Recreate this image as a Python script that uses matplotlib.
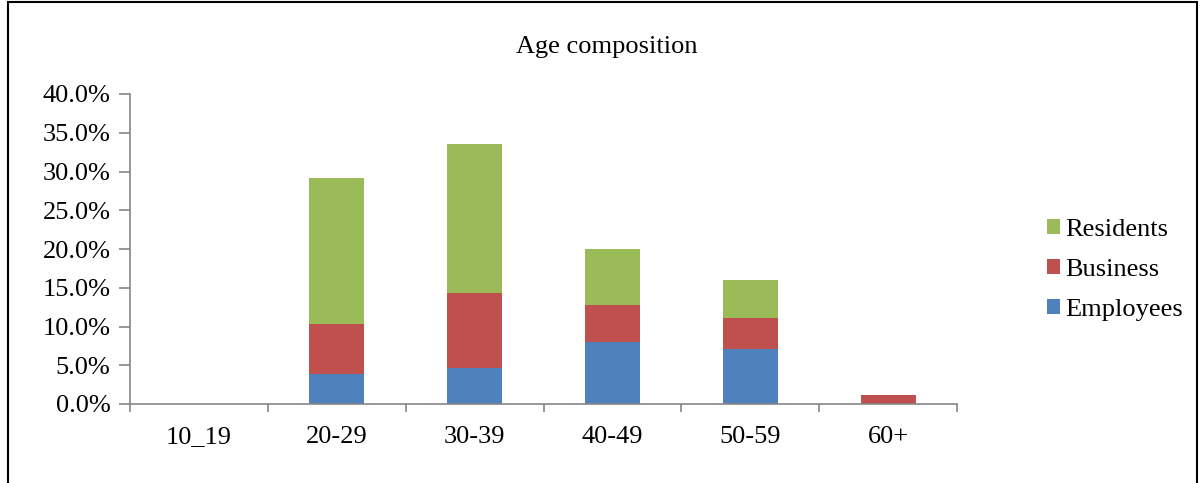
import numpy as np
import matplotlib.pyplot as plt
from matplotlib.patches import Rectangle
from matplotlib.ticker import PercentFormatter, FixedLocator

# --- Data -----------------------------------------------------------

ages      = ["10_19", "20-29", "30-39", "40-49", "50-59", "60+"]
employees = [0.0, 3.9, 4.7, 8.0, 7.1, 0.0]
business  = [0.0, 6.4, 9.6, 4.8, 4.0, 1.2]
residents = [0.0, 18.9, 19.3, 7.2, 4.9, 0.0]

# --- Figure ---------------------------------------------------------

plt.rcParams['font.family'] = ['Liberation Serif', 'DejaVu Serif']

fig = plt.figure(figsize=(12, 4.83), dpi=100)
ax = fig.add_axes([130/1200, 79/483, 827/1200, 310/483])

x = np.arange(len(ages))
emp = np.array(employees)
bus = np.array(business)
res = np.array(residents)

b1 = ax.bar(x, emp, 0.4, color="#4F81BD", label="Employees")
b2 = ax.bar(x, bus, 0.4, bottom=emp, color="#C0504D", label="Business")
b3 = ax.bar(x, res, 0.4, bottom=emp + bus, color="#9BBB59", label="Residents")

ax.set_xlim(-0.5, len(ages) - 0.5)
ax.set_ylim(0, 40)
ax.set_yticks(np.arange(0, 40.1, 5))
ax.yaxis.set_major_formatter(PercentFormatter(decimals=1))
ax.set_xticks(x)
ax.set_xticklabels(ages)
ax.xaxis.set_minor_locator(FixedLocator(np.arange(-0.5, len(ages), 1)))

grey = "#868686"
for s in ["top", "right"]:
    ax.spines[s].set_visible(False)
for s in ["left", "bottom"]:
    ax.spines[s].set_color(grey)
    ax.spines[s].set_linewidth(1.2)

ax.tick_params(axis="y", length=8, width=1.2, color=grey, labelsize=19, pad=6)
ax.tick_params(axis="x", which="major", length=0, labelsize=19, pad=16)
ax.tick_params(axis="x", which="minor", length=6, width=1.2, color=grey)

fig.text(607/1200, 1 - 47/483, "Age composition", ha="center", va="center", fontsize=19)

fig.legend(handles=[b3, b2, b1], loc="center left",
           bbox_to_anchor=(1026/1200, 1 - 270/483), frameon=False,
           fontsize=19, handlelength=0.5, handleheight=0.5,
           handletextpad=0.2, labelspacing=0.67, borderpad=0.3)

# outer frame
fig.patches.append(Rectangle((8/1200, -0.05), 1189/1200, 1.05 - 2/483,
                             transform=fig.transFigure, fill=False,
                             edgecolor="black", linewidth=1.5))

plt.savefig("out.png")
